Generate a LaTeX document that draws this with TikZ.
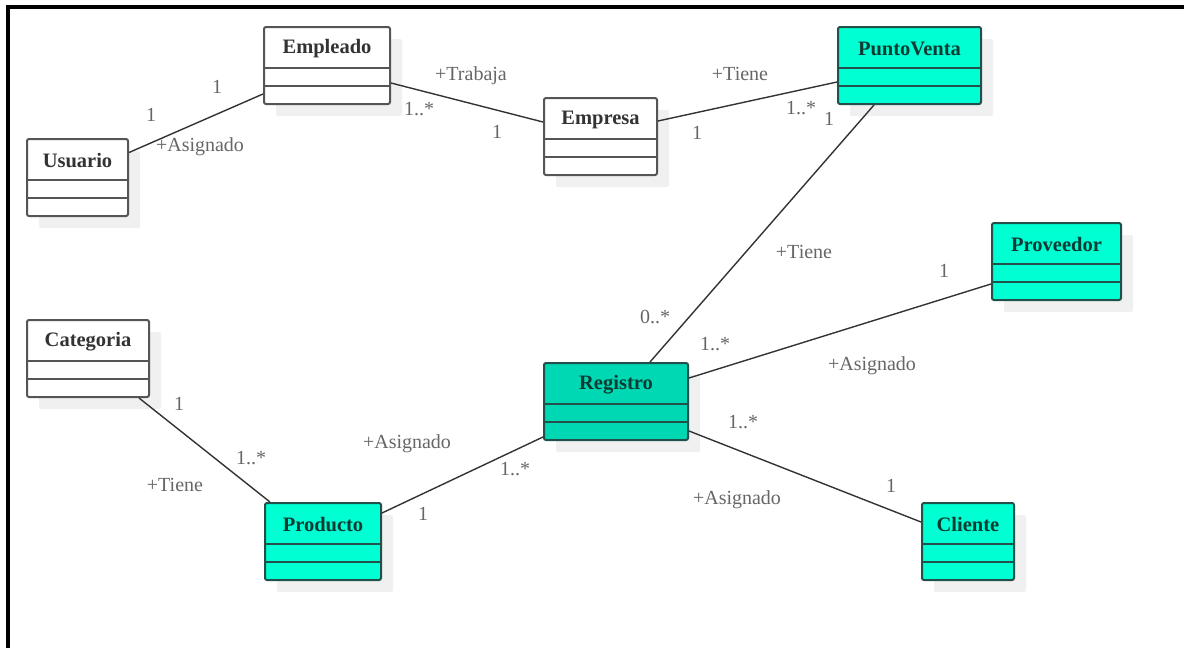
\documentclass[tikz,border=0pt]{standalone}
\usepackage{fontspec}
\setmainfont{Liberation Serif}
\usetikzlibrary{shadows}

\definecolor{plainedge}{HTML}{555555}
\definecolor{tealedge}{HTML}{22504A}
\definecolor{aquafill}{HTML}{00FFD2}
\definecolor{tealfill}{HTML}{00D8B4}
\definecolor{titleink}{HTML}{333333}
\definecolor{tealink}{HTML}{0B3B33}
\definecolor{labelink}{HTML}{666666}
\definecolor{wireink}{HTML}{333333}
\definecolor{shadowgray}{HTML}{F0F0F0}

\tikzset{
  classbase/.style={rectangle, rounded corners=2pt, line width=2pt,
    minimum height=77pt, inner sep=0pt,
    drop shadow={shadow xshift=12pt, shadow yshift=-12pt, fill=shadowgray, opacity=1}},
  plainbox/.style={classbase, draw=plainedge, fill=white},
  aquabox/.style={classbase, draw=tealedge, fill=aquafill},
  tealbox/.style={classbase, draw=tealedge, fill=tealfill},
  plainbox title/.style={font=\fontsize{20.5}{24}\selectfont\bfseries, text=titleink, inner sep=0pt},
  aquabox title/.style={font=\fontsize{20.5}{24}\selectfont\bfseries, text=tealink, inner sep=0pt},
  tealbox title/.style={font=\fontsize{20.5}{24}\selectfont\bfseries, text=tealink, inner sep=0pt},
  plainbox rule/.style={draw=plainedge, line width=2pt},
  aquabox rule/.style={draw=tealedge, line width=2pt},
  tealbox rule/.style={draw=tealedge, line width=2pt},
  wire/.style={draw=wireink, line width=1.4pt},
  role/.style={font=\fontsize{20}{24}\selectfont, text=labelink, inner sep=0pt},
}

% class box: name, left, top, width, style, title
\newcommand\umlclass[6]{%
  \node[#5, minimum width=#4pt, anchor=north west] (#1) at (#2,#3) {};
  \node[#5 title] (#1-title) at ([yshift=-22.5pt]#1.north) {#6};
  \draw[#5 rule] ([yshift=-42pt]#1.north west) -- ([yshift=-42pt]#1.north east);
  \draw[#5 rule] ([yshift=-60pt]#1.north west) -- ([yshift=-60pt]#1.north east);
}

\begin{document}
\begin{tikzpicture}[x=1pt, y=-1pt]
\useasboundingbox (0,0) rectangle (1184,648);

% frame
\draw[line width=4pt, black] (8,648) -- (8,7) -- (1184,7);

% classes
\umlclass{usuario}{26}{138}{101}{plainbox}{Usuario}
\umlclass{empleado}{263}{26}{126}{plainbox}{Empleado}
\umlclass{empresa}{543}{97}{113}{plainbox}{Empresa}
\umlclass{puntoventa}{837}{26}{143}{aquabox}{PuntoVenta}
\umlclass{proveedor}{991}{222}{129}{aquabox}{Proveedor}
\umlclass{categoria}{26}{319}{122}{plainbox}{Categoria}
\umlclass{producto}{264}{502}{116}{aquabox}{Producto}
\umlclass{registro}{543}{362}{144}{tealbox}{Registro}
\umlclass{cliente}{921}{502}{92}{aquabox}{Cliente}

% associations
\draw[wire] ([yshift=25pt]usuario.east) -- ([yshift=-28.5pt]empleado.west);
\draw[wire] ([yshift=-17.5pt]empleado.east) -- ([yshift=14.5pt]empresa.west);
\draw[wire] ([yshift=15.5pt]empresa.east) -- ([yshift=-16.5pt]puntoventa.west);
\draw[wire] ([xshift=-35.5pt]puntoventa.south) -- ([xshift=34pt]registro.north);
\draw[wire] ([yshift=23.5pt]registro.east) -- ([yshift=-22.5pt]proveedor.west);
\draw[wire] ([yshift=-29.5pt]registro.east) -- ([yshift=19.5pt]cliente.west);
\draw[wire] ([yshift=-35.5pt]registro.west) -- ([yshift=28.5pt]producto.east);
\draw[wire] ([xshift=51pt]categoria.south) -- ([xshift=-53pt]producto.north);

% role names and multiplicities
\node[role] (l1) at (151,115) {1};
\node[role] (l2) at (217,87) {1};
\node[role] (l3) at (200,147) {+Asignado};

\node[role] (l4) at (471,76) {+Trabaja};
\node[role] (l5) at (419,109) {1..*};
\node[role] (l6) at (497,132) {1};

\node[role] (l7) at (740,74) {+Tiene};
\node[role] (l8) at (697,133) {1};
\node[role] (l9) at (801,108) {1..*};

\node[role] (l10) at (829,119) {1};
\node[role] (l11) at (804,252) {+Tiene};
\node[role] (l12) at (655,317) {0..*};

\node[role] (l13) at (944,271) {1};
\node[role] (l14) at (715,344) {1..*};
\node[role] (l15) at (872,366) {+Asignado};

\node[role] (l16) at (743,422) {1..*};
\node[role] (l17) at (737,500) {+Asignado};
\node[role] (l18) at (891,486) {1};

\node[role] (l19) at (407,444) {+Asignado};
\node[role] (l20) at (515,469) {1..*};
\node[role] (l21) at (423,514) {1};

\node[role] (l22) at (179,404) {1};
\node[role] (l23) at (251,458) {1..*};
\node[role] (l24) at (175,485) {+Tiene};
\end{tikzpicture}
\end{document}
